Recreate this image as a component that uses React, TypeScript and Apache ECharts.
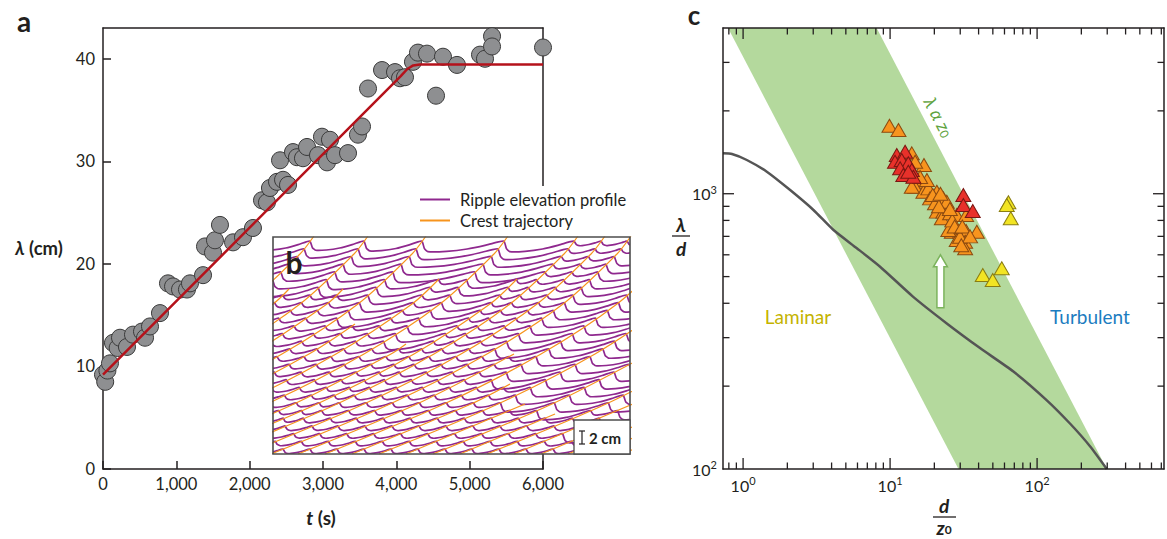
import React, { useEffect, useRef } from "react";
import * as echarts from "echarts";

const FONT = "Lato, 'Open Sans', 'DejaVu Sans', sans-serif";
const INK = "#231f20";
const PURPLE = "#8f288e";
const ORANGE = "#f7941d";

// ---------------- Panel a : wavelength growth ----------------
const timeTicks = [0, 1000, 2000, 3000, 4000, 5000, 6000];
const lambdaTicks = [0, 10, 20, 30, 40];
const measuredT = [0, 30, 60, 95, 136, 200, 232, 327, 409, 532, 573, 641, 777, 886, 955, 1050, 1145, 1186, 1364, 1391, 1500, 1527, 1595, 1773, 1909, 2045, 2168, 2236, 2277, 2373, 2414, 2455, 2523, 2591, 2645, 2727, 2782, 2932, 2986, 3055, 3095, 3164, 3341, 3477, 3532, 3614, 3805, 3982, 4050, 4118, 4227, 4295, 4418, 4541, 4636, 4827, 5141, 5209, 5305, 5305, 6000];
const measuredLambda = [9.2, 8.5, 9.6, 10.3, 12.3, 11.8, 12.8, 11.9, 13.1, 13.4, 12.8, 13.9, 15.2, 18.1, 17.8, 17.5, 17.5, 18.1, 18.9, 21.7, 21.1, 22.3, 23.8, 22.1, 22.6, 23.5, 26.2, 26.0, 27.4, 28.0, 30.1, 28.2, 27.7, 30.9, 30.4, 30.3, 31.4, 30.6, 32.4, 29.9, 32.1, 30.6, 30.8, 32.6, 33.4, 37.1, 38.9, 38.7, 38.1, 38.2, 39.7, 40.6, 40.5, 36.4, 40.2, 39.4, 40.4, 40.0, 42.2, 41.2, 41.1];
const fitT = [0, 4060, 4150, 4230, 4320, 6000];
const fitLambda = [9.2, 38.3, 39.0, 39.35, 39.45, 39.45];

// ---------------- Panel b : space-time ripple profiles ----------------
const profileLevels = [5, 12.7, 20.4, 28.1, 35.8, 43.5, 51.2, 58.9, 66.6, 74.3, 82, 89.7, 97.4, 105.1, 112.8, 120.5, 128.2, 135.9, 143.6, 151.3, 159, 166.7, 174.4, 182.1, 189.8, 197.5, 205.2, 212.9];
const crestTracks: number[][][] = [
  [[-319, 0], [-200, 50], [-103, 100], [-27, 150], [27, 200], [41, 218]],
  [[-292, 0], [-173, 50], [-76, 100], [0, 150], [16, 165]],
  [[-265, 0], [-146, 50], [-49, 100], [27, 150], [81, 200], [95, 218]],
  [[-238, 0], [-119, 50], [-22, 100], [54, 150], [70, 165]],
  [[-207, 0], [-88, 50], [9, 100], [85, 150], [139, 200], [153, 218]],
  [[-180, 0], [-61, 50], [36, 100], [82, 130]],
  [[-153, 0], [-34, 50], [63, 100], [139, 150], [166, 175]],
  [[-125, 0], [-6, 50], [91, 100], [167, 150], [221, 200], [235, 218]],
  [[-98, 0], [21, 50], [118, 100], [133, 110]],
  [[-75, 0], [44, 50], [141, 100], [217, 150], [244, 175]],
  [[-55, 0], [64, 50], [161, 100], [237, 150], [291, 200], [305, 218]],
  [[-28, 0], [91, 50], [188, 100], [264, 150], [318, 200], [332, 218]],
  [[-2, 0], [117, 50], [214, 100], [290, 150], [344, 200], [358, 218]],
  [[25, 0], [144, 50], [241, 100]],
  [[52, 0], [171, 50], [268, 100], [344, 150], [398, 200]],
  [[79, 0], [198, 50], [237, 70]],
  [[106, 0], [225, 50], [322, 100], [398, 150]],
  [[133, 0], [252, 50]],
  [[160, 0], [279, 50], [376, 100]],
  [[187, 0], [282, 40]],
  [[214, 0], [333, 50], [430, 100]],
  [[241, 0], [360, 50]],
  [[268, 0], [316, 20]],
  [[295, 0], [414, 50]],
  [[322, 0], [441, 50]],
  [[349, 0], [468, 50]],
];

// ---------------- Panel c : regime diagram ----------------
const bandD = [0.79, 8.1, 298, 29.2];
const bandL = [4000, 4000, 100, 100];
const curveD = [0.73, 0.84, 1.06, 1.45, 2.09, 3.01, 4.12, 5.94, 8.55, 14.3, 24.3, 40.9, 69, 116, 168, 229, 298];
const curveL = [1402, 1394, 1326, 1202, 1031, 873, 738, 634, 543, 423, 338, 275, 226, 178, 146, 121, 100];
const orangeD = [9.9, 11.4, 14.05, 17.0, 14.8, 15.6, 14.8, 16.85, 18.2, 20.8, 18.7, 23.05, 20.2, 20.8, 23.05, 22.5, 25.6, 28.4, 32.9, 26.3, 29.9, 32.9, 38.9, 28.4, 32.4, 32.4, 29.9, 24.9, 24.3, 17.8, 14.05, 19.5, 21.5, 26.5, 27.5, 31, 35, 22, 16, 30.5, 25.5];
const orangeL = [1766, 1703, 1402, 1271, 1307, 1105, 1060, 1017, 1046, 1017, 962, 962, 923, 861, 861, 814, 849, 837, 837, 728, 728, 732, 728, 679, 669, 634, 698, 738, 935, 1121, 1060, 990, 900, 800, 760, 760, 700, 1000, 1150, 650, 880];
const redD = [11.1, 12.65, 10.8, 12.0, 13.3, 11.7, 14.05, 12.3, 14.4, 13.3, 31.5, 31.5, 36.5];
const redL = [1382, 1421, 1307, 1326, 1290, 1237, 1219, 1169, 1153, 1202, 989, 910, 866];
const yellowD = [63.8, 62.2, 66.2, 42.7, 49.9, 57.5];
const yellowL = [931, 910, 814, 507, 486, 536];
const xMajorTicks = [1, 10, 100];
const xMinorTicks = [0.8, 0.9, 2, 3, 4, 5, 6, 7, 8, 9, 20, 30, 40, 50, 60, 70, 80, 90, 200, 300, 400, 500, 600, 700];
const yMajorTicks = [1000];
const yMinorTicks = [200, 300, 400, 500, 600, 700, 800, 900, 2000, 3000];
const arrowD = 22;
const arrowFrom = 385;
const arrowTo = 600;

const zip = (a: number[], b: number[]) => a.map((v, i) => [v, b[i]]);

function crestsAt(level: number): number[] {
  const cs: number[] = [];
  for (const tr of crestTracks) {
    for (let i = 0; i < tr.length - 1; i++) {
      const [u0, v0] = tr[i];
      const [u1, v1] = tr[i + 1];
      if (level >= v0 && level <= v1) {
        const f = (level - v0) / (v1 - v0);
        cs.push(u0 + f * (u1 - u0));
        break;
      }
    }
  }
  return cs.sort((a, b) => a - b);
}

function buildProfile(level: number): number[][] {
  const cs = crestsAt(level);
  if (!cs.length) return [[-5, level - 3], [362, level - 3]];
  const g0 = cs.length > 1 ? cs[1] - cs[0] : 40;
  const g1 = cs.length > 1 ? cs[cs.length - 1] - cs[cs.length - 2] : 40;
  const ext = [cs[0] - g0, ...cs, cs[cs.length - 1] + g1];
  const pts: number[][] = [];
  for (let k = 0; k < ext.length - 1; k++) {
    const c = ext[k];
    const w = ext[k + 1] - c;
    const A = Math.min(10.5, Math.max(4, 0.17 * w));
    const d = Math.min(2.4, 0.08 * w);
    pts.push(
      [c, level],
      [c + d, level - 0.72 * A],
      [c + 2.4 * d, level - A],
      [c + 0.3 * w, level - 0.97 * A],
      [c + 0.55 * w, level - 0.75 * A],
      [c + 0.78 * w, level - 0.38 * A],
      [c + 0.93 * w, level - 0.08 * A]
    );
  }
  pts.push([ext[ext.length - 1], level]);
  return pts;
}

const supRich = {
  b: { fontSize: 16, fontFamily: FONT, color: INK, lineHeight: 20 },
  s: { fontSize: 11, fontFamily: FONT, color: INK, lineHeight: 12, verticalAlign: "top" },
};
const powLabel = (v: number) => `{b|10}{s|${Math.round(Math.log10(v))}}`;

const axisLineStyle = { color: INK, width: 1.5 };

function buildOption(): any {
  const trackSeries = crestTracks.map((tr) => ({
    type: "line",
    name: "Crest trajectory",
    xAxisIndex: 2,
    yAxisIndex: 2,
    data: tr,
    smooth: 0.3,
    showSymbol: false,
    symbol: "none",
    clip: true,
    z: 4,
    itemStyle: { color: ORANGE },
    lineStyle: { color: ORANGE, width: 1.2 },
  }));

  const tickRender = (params: any, api: any) => {
    const v = api.value(0);
    const len = api.value(1);
    const b = api.coord([v, 100]);
    const t = api.coord([v, 4000]);
    const st = { stroke: INK, lineWidth: 1.3 };
    return {
      type: "group",
      children: [
        { type: "line", shape: { x1: b[0], y1: b[1], x2: b[0], y2: b[1] - len }, style: st },
        { type: "line", shape: { x1: t[0], y1: t[1], x2: t[0], y2: t[1] + len }, style: st },
      ],
    };
  };
  const yTickRender = (params: any, api: any) => {
    const v = api.value(1);
    const len = api.value(2);
    const l = api.coord([0.73, v]);
    const r = api.coord([730, v]);
    const st = { stroke: INK, lineWidth: 1.3 };
    return {
      type: "group",
      children: [
        { type: "line", shape: { x1: l[0], y1: l[1], x2: l[0] + len, y2: l[1] }, style: st },
        { type: "line", shape: { x1: r[0], y1: r[1], x2: r[0] - len, y2: r[1] }, style: st },
      ],
    };
  };

  const tri = (data: number[][], fill: string, stroke: string, z: number) => ({
    type: "scatter",
    xAxisIndex: 3,
    yAxisIndex: 3,
    data,
    symbol: "triangle",
    symbolSize: [15, 13],
    z,
    itemStyle: { color: fill, borderColor: stroke, borderWidth: 1, opacity: 1 },
  });

  const labelRich = (size: number) => ({
    i: { fontSize: size, fontWeight: "bold", fontStyle: "italic", fontFamily: FONT, fill: INK },
    n: { fontSize: size, fontWeight: "bold", fontFamily: FONT, fill: INK },
  });

  return {
    animation: false,
    backgroundColor: "#ffffff",
    textStyle: { fontFamily: FONT },
    grid: [
      { left: 103, top: 28, width: 440, height: 441 },
      { left: 273, top: 237, width: 357, height: 217 },
      { left: 723, top: 28, width: 441, height: 441 },
    ],
    legend: {
      left: 415,
      top: 186,
      orient: "vertical",
      itemGap: 4,
      itemWidth: 30,
      itemHeight: 2,
      selectedMode: false,
      textStyle: { fontSize: 16.5, color: INK, fontFamily: FONT, padding: [0, 0, 0, 5] },
      data: [
        { name: "Ripple elevation profile", icon: "rect", itemStyle: { color: PURPLE } },
        { name: "Crest trajectory", icon: "rect", itemStyle: { color: ORANGE } },
      ],
    },
    xAxis: [
      {
        gridIndex: 0, type: "value", min: timeTicks[0], max: timeTicks[timeTicks.length - 1], interval: 1000,
        axisLine: { show: true, onZero: false, lineStyle: axisLineStyle },
        axisTick: { show: true, inside: true, length: 8, lineStyle: axisLineStyle },
        axisLabel: { fontSize: 16.5, color: INK, fontFamily: FONT, margin: 6, formatter: (v: number) => v.toLocaleString("en-US") },
        splitLine: { show: false },
      },
      {
        gridIndex: 0, type: "value", position: "top", min: 0, max: 6000,
        axisLine: { show: true, onZero: false, lineStyle: axisLineStyle },
        axisTick: { show: false }, axisLabel: { show: false }, splitLine: { show: false },
      },
      { gridIndex: 1, type: "value", min: 0, max: 357, show: false },
      {
        gridIndex: 2, type: "log", logBase: 10, min: 0.73, max: 730, z: 7,
        axisLine: { show: true, onZero: false, lineStyle: axisLineStyle },
        axisTick: { show: false },
        axisLabel: { formatter: powLabel, rich: supRich, showMinLabel: false, showMaxLabel: false, margin: 6 },
        splitLine: { show: false },
      },
      {
        gridIndex: 2, type: "log", logBase: 10, position: "top", min: 0.73, max: 730, z: 7,
        axisLine: { show: true, onZero: false, lineStyle: axisLineStyle },
        axisTick: { show: false }, axisLabel: { show: false }, splitLine: { show: false },
      },
    ],
    yAxis: [
      {
        gridIndex: 0, type: "value", min: lambdaTicks[0], max: 43, interval: 10,
        axisLine: { show: true, onZero: false, lineStyle: axisLineStyle },
        axisTick: { show: true, inside: true, length: 8, lineStyle: axisLineStyle },
        axisLabel: { fontSize: 16.5, color: INK, fontFamily: FONT, margin: 8, showMaxLabel: false },
        splitLine: { show: false },
      },
      {
        gridIndex: 0, type: "value", position: "right", min: 0, max: 43,
        axisLine: { show: true, onZero: false, lineStyle: axisLineStyle },
        axisTick: { show: false }, axisLabel: { show: false }, splitLine: { show: false },
      },
      { gridIndex: 1, type: "value", min: 0, max: 217, show: false },
      {
        gridIndex: 2, type: "log", logBase: 10, min: 100, max: 4000, z: 7,
        axisLine: { show: true, onZero: false, lineStyle: axisLineStyle },
        axisTick: { show: false },
        axisLabel: { formatter: powLabel, rich: supRich, showMaxLabel: false, margin: 6 },
        splitLine: { show: false },
      },
      {
        gridIndex: 2, type: "log", logBase: 10, position: "right", min: 100, max: 4000, z: 7,
        axisLine: { show: true, onZero: false, lineStyle: axisLineStyle },
        axisTick: { show: false }, axisLabel: { show: false }, splitLine: { show: false },
      },
    ],
    series: [
      {
        type: "line", name: "fit", xAxisIndex: 0, yAxisIndex: 0, data: zip(fitT, fitLambda),
        showSymbol: false, symbol: "none", z: 3, lineStyle: { color: "#b5121b", width: 2.5 },
      },
      {
        type: "scatter", name: "measured", xAxisIndex: 0, yAxisIndex: 0, data: zip(measuredT, measuredLambda),
        symbolSize: 17, z: 2, clip: false,
        itemStyle: { color: "#8e8f91", borderColor: "#3a3a3a", borderWidth: 1, opacity: 1 },
      },
      {
        type: "custom", name: "Ripple elevation profile", xAxisIndex: 2, yAxisIndex: 2,
        data: profileLevels.map((L) => [0, L]),
        clip: true, z: 3,
        itemStyle: { color: PURPLE },
        renderItem: (params: any, api: any) => {
          const level = api.value(1);
          const pts = buildProfile(level).map((p) => api.coord(p));
          const cs = params.coordSys;
          return {
            type: "polyline",
            shape: { points: pts, smooth: 0.15 },
            style: { stroke: PURPLE, lineWidth: 1.7, fill: "none" },
            clipPath: { type: "rect", shape: { x: cs.x, y: cs.y, width: cs.width, height: cs.height } },
          };
        },
      },
      ...trackSeries,
      {
        type: "custom", name: "band", xAxisIndex: 3, yAxisIndex: 3, data: [[bandD[0], bandL[0]]], z: 1, silent: true,
        renderItem: (params: any, api: any) => ({
          type: "polygon",
          shape: { points: bandD.map((d, i) => api.coord([d, bandL[i]])) },
          style: { fill: "#b4d99d", stroke: "none" },
        }),
      },
      {
        type: "line", name: "transition", xAxisIndex: 3, yAxisIndex: 3, data: zip(curveD, curveL),
        smooth: 0.2, showSymbol: false, symbol: "none", z: 3, lineStyle: { color: "#555555", width: 2.5 },
      },
      {
        type: "custom", name: "arrow", xAxisIndex: 3, yAxisIndex: 3, data: [[arrowD, arrowFrom, arrowTo]], z: 5,
        renderItem: (params: any, api: any) => {
          const b = api.coord([api.value(0), api.value(1)]);
          const t = api.coord([api.value(0), api.value(2)]);
          const x = b[0];
          const hw = 3.5, hh = 7, hl = 12;
          return {
            type: "polygon",
            shape: { points: [[x - hw, b[1]], [x - hw, t[1] + hl], [x - hh, t[1] + hl], [x, t[1]], [x + hh, t[1] + hl], [x + hw, t[1] + hl], [x + hw, b[1]]] },
            style: { fill: "#ffffff", stroke: "#7cb35d", lineWidth: 1.5 },
          };
        },
      },
      tri(zip(orangeD, orangeL), "#f7941e", "#8c4a10", 4),
      tri(zip(redD, redL), "#e8312a", "#7a1712", 5),
      tri(zip(yellowD, yellowL), "#f2e423", "#8a7d12", 5),
      {
        type: "custom", name: "xticks", xAxisIndex: 3, yAxisIndex: 3, z: 8, clip: false, silent: true,
        data: [...xMajorTicks.map((v) => [v, 11]), ...xMinorTicks.map((v) => [v, 6.5])],
        renderItem: tickRender,
      },
      {
        type: "custom", name: "yticks", xAxisIndex: 3, yAxisIndex: 3, z: 8, clip: false, silent: true,
        data: [...yMajorTicks.map((v) => [1, v, 11]), ...yMinorTicks.map((v) => [1, v, 6.5])],
        renderItem: yTickRender,
      },
    ],
    graphic: [
      { type: "rect", z: 1, shape: { x: 405, y: 186, width: 227, height: 51 }, style: { fill: "#ffffff" } },
      { type: "rect", z: 1, shape: { x: 273, y: 237, width: 357, height: 217 }, style: { fill: "#ffffff" } },
      { type: "rect", z: 10, shape: { x: 273, y: 237, width: 357, height: 217 }, style: { fill: "none", stroke: "#4d4d4d", lineWidth: 1.6 } },
      { type: "rect", z: 11, shape: { x: 574, y: 420, width: 56, height: 34 }, style: { fill: "#ffffff", stroke: "#4d4d4d", lineWidth: 1.3 } },
      { type: "line", z: 12, shape: { x1: 582, y1: 431, x2: 582, y2: 444 }, style: { stroke: INK, lineWidth: 1.2 } },
      { type: "line", z: 12, shape: { x1: 579, y1: 431, x2: 585, y2: 431 }, style: { stroke: INK, lineWidth: 1.2 } },
      { type: "line", z: 12, shape: { x1: 579, y1: 444, x2: 585, y2: 444 }, style: { stroke: INK, lineWidth: 1.2 } },
      { type: "text", z: 12, x: 589, y: 438, style: { text: "2 cm", font: `bold 15px ${FONT}`, fill: INK, verticalAlign: "middle", align: "left" } },
      { type: "text", z: 12, x: 294, y: 262, style: { text: "b", font: `bold 30px ${FONT}`, fill: INK, verticalAlign: "middle", align: "center" } },
      { type: "text", z: 12, x: 24, y: 21, style: { text: "a", font: `bold 28px ${FONT}`, fill: INK, verticalAlign: "middle", align: "center" } },
      { type: "text", z: 12, x: 694, y: 15, style: { text: "c", font: `bold 26px ${FONT}`, fill: INK, verticalAlign: "middle", align: "center" } },
      { type: "text", z: 12, x: 39, y: 248, style: { text: "{i|λ}{n| (cm)}", align: "center", verticalAlign: "middle", rich: labelRich(18.5) } },
      { type: "text", z: 12, x: 321, y: 517, style: { text: "{i|t}{n| (s)}", align: "center", verticalAlign: "middle", rich: labelRich(19) } },
      { type: "text", z: 12, x: 681, y: 224, style: { text: "λ", font: `italic bold 19px ${FONT}`, fill: INK, align: "center", verticalAlign: "middle" } },
      { type: "line", z: 12, shape: { x1: 672, y1: 236, x2: 690, y2: 236 }, style: { stroke: INK, lineWidth: 1.3 } },
      { type: "text", z: 12, x: 681, y: 248, style: { text: "d", font: `italic bold 19px ${FONT}`, fill: INK, align: "center", verticalAlign: "middle" } },
      { type: "text", z: 12, x: 944, y: 505, style: { text: "d", font: `italic bold 19px ${FONT}`, fill: INK, align: "center", verticalAlign: "middle" } },
      { type: "line", z: 12, shape: { x1: 933, y1: 517, x2: 956, y2: 517 }, style: { stroke: INK, lineWidth: 1.3 } },
      {
        type: "text", z: 12, x: 944, y: 527,
        style: {
          text: "{i|z}{s|0}", align: "center", verticalAlign: "middle",
          rich: {
            i: { fontSize: 19, fontWeight: "bold", fontStyle: "italic", fontFamily: FONT, fill: INK, lineHeight: 16 },
            s: { fontSize: 12, fontWeight: "bold", fontFamily: FONT, fill: INK, lineHeight: 10, verticalAlign: "bottom" },
          },
        },
      },
      { type: "text", z: 12, x: 798, y: 316, style: { text: "Laminar", font: `19px ${FONT}`, fill: "#c4b300", align: "center", verticalAlign: "middle" } },
      { type: "text", z: 12, x: 1090, y: 316, style: { text: "Turbulent", font: `19px ${FONT}`, fill: "#1b7cc0", align: "center", verticalAlign: "middle" } },
      {
        type: "text", z: 12, x: 939, y: 117, rotation: -1.09,
        style: {
          text: "{i|λ α z}{s|0}", align: "center", verticalAlign: "middle",
          rich: {
            i: { fontSize: 18, fontStyle: "italic", fontFamily: FONT, fill: "#5fa33e", lineHeight: 18 },
            s: { fontSize: 12, fontFamily: FONT, fill: "#5fa33e", lineHeight: 12, verticalAlign: "bottom" },
          },
        },
      },
    ],
  };
}

export default function App() {
  const ref = useRef<HTMLDivElement>(null);
  useEffect(() => {
    if (!ref.current) return;
    const chart = echarts.init(ref.current, null, { renderer: "svg" });
    chart.setOption(buildOption());
    return () => chart.dispose();
  }, []);
  return <div ref={ref} style={{ position: "absolute", left: 0, top: 0, width: 1167, height: 539, background: "#fff" }} />;
}
